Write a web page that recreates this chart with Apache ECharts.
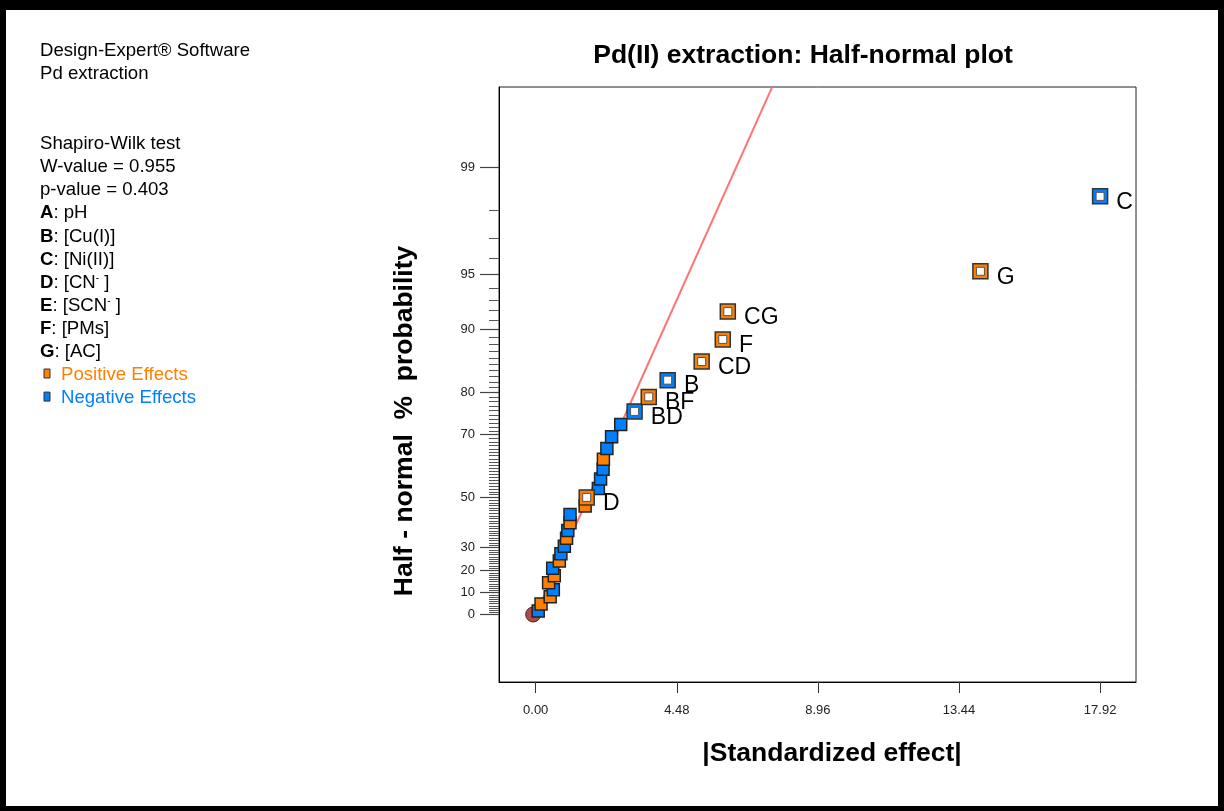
<!DOCTYPE html>
<html>
<head>
<meta charset="utf-8">
<script src="https://cdn.jsdelivr.net/npm/echarts@6/dist/echarts.min.js"></script>
<style>
html,body{margin:0;padding:0;background:#fff;}
#chart{width:1224px;height:811px;}
</style>
</head>
<body>
<div id="chart"></div>
<script>
// ---------------- data ----------------
// |standardized effect| of each effect, in rank order (smallest first)
const absEffects = [0.08, 0.17, 0.46, 0.56, 0.41, 0.59, 0.54, 0.75, 0.80, 0.91,
                    0.98, 1.02, 1.09, 1.09, 1.57, 1.62, 1.99, 2.06, 2.14, 2.15,
                    2.26, 2.41, 2.70, 3.14, 3.59, 4.19, 5.27, 5.94, 6.10, 14.12, 17.92];
// half-normal probability (%) of each ranked effect
const probPercent = [1.6, 4.8, 8.1, 11.3, 14.5, 17.7, 21.0, 24.2, 27.4, 30.6,
                     33.9, 37.1, 40.3, 43.5, 46.8, 50.0, 53.2, 56.5, 59.7, 62.9,
                     66.1, 69.4, 72.6, 75.8, 79.0, 82.3, 85.5, 88.7, 91.9, 95.2, 98.4];
// sign of each effect
const effectSigns = ['-', '+', '+', '-', '+', '+', '-', '+', '-', '-',
                     '+', '-', '+', '-', '+', '+', '-', '-', '-', '+',
                     '-', '-', '-', '-', '+', '-', '+', '+', '+', '+', '-'];
// names of the selected (labelled) effects
const effectNames = ['', '', '', '', '', '', '', '', '', '',
                     '', '', '', '', '', 'D', '', '', '', '',
                     '', '', '', 'BD', 'BF', 'B', 'CD', 'F', 'CG', 'G', 'C'];
const originPoint = [-0.08, 0];           // [effect, %]
const fitLineEffect = [0, 7.5];
const fitLinePercent = [0, 99.76];
const xTickValues = [0, 4.48, 8.96, 13.44, 17.92];
const yTickPercents = [0, 10, 20, 30, 50, 70, 80, 90, 95, 99];
const yMinorPercents = [];
for (let p = 1; p <= 98; p++) if (yTickPercents.indexOf(p) < 0) yMinorPercents.push(p);

const chartTitle = 'Pd(II) extraction: Half-normal plot';
const xTitle = '|Standardized effect|';
const yTitle = 'Half - normal  %  probability';
const panelHeader = ['Design-Expert® Software', 'Pd extraction'];
const panelStats = ['Shapiro-Wilk test', 'W-value = 0.955', 'p-value = 0.403'];
const factorLetters = ['A', 'B', 'C', 'D', 'E', 'F', 'G'];
const factorNames = ['pH', '[Cu(I)]', '[Ni(II)]', '[CN{sup|-} ]', '[SCN{sup|-} ]', '[PMs]', '[AC]'];
const legendNames = ['Positive Effects', 'Negative Effects'];

// ---------------- probability scale ----------------
function normInv(p) {
  const a=[-3.969683028665376e+01,2.209460984245205e+02,-2.759285104469687e+02,1.383577518672690e+02,-3.066479806614716e+01,2.506628277459239e+00];
  const b=[-5.447609879822406e+01,1.615858368580409e+02,-1.556989798598866e+02,6.680131188771972e+01,-1.328068155288572e+01];
  const c=[-7.784894002430293e-03,-3.223964580411365e-01,-2.400758277161838e+00,-2.549732539343734e+00,4.374664141464968e+00,2.938163982698783e+00];
  const d=[7.784695709041462e-03,3.224671290700398e-01,2.445134137142996e+00,3.754408661907416e+00];
  const pl=0.02425, ph=1-pl; let q, r;
  if (p < pl) { q=Math.sqrt(-2*Math.log(p)); return (((((c[0]*q+c[1])*q+c[2])*q+c[3])*q+c[4])*q+c[5])/((((d[0]*q+d[1])*q+d[2])*q+d[3])*q+1); }
  if (p <= ph) { q=p-0.5; r=q*q; return (((((a[0]*r+a[1])*r+a[2])*r+a[3])*r+a[4])*r+a[5])*q/(((((b[0]*r+b[1])*r+b[2])*r+b[3])*r+b[4])*r+1); }
  q=Math.sqrt(-2*Math.log(1-p)); return -(((((c[0]*q+c[1])*q+c[2])*q+c[3])*q+c[4])*q+c[5])/((((d[0]*q+d[1])*q+d[2])*q+d[3])*q+1);
}
function halfZ(pct) { return pct <= 0 ? 0 : normInv(0.5 + pct / 200); }

const FONT = '"Liberation Sans", Arial, Helvetica, sans-serif';
const ORANGE = '#FF8000', BLUE = '#0080FF';
const PANEL_FS = 18.6, TITLE_FS = 26.5;

const majorZ = yTickPercents.map(halfZ);
const minorZ = yMinorPercents.map(halfZ);

const filledData = [], hollowData = [];
absEffects.forEach((x, i) => {
  const col = effectSigns[i] === '+' ? ORANGE : BLUE;
  const pt = { value: [x, halfZ(probPercent[i])], name: effectNames[i], itemStyle: { color: col } };
  if (effectNames[i]) hollowData.push(pt); else filledData.push(pt);
});
const lineData = fitLineEffect.map((x, i) => [x, halfZ(fitLinePercent[i])]);

// ---------------- graphic texts ----------------
const graphics = [];
// frame
graphics.push({ type: 'rect', shape: { x: 0, y: 0, width: 1224, height: 10 }, style: { fill: '#000' }, z: 100 });
graphics.push({ type: 'rect', shape: { x: 0, y: 0, width: 6, height: 811 }, style: { fill: '#000' }, z: 100 });
graphics.push({ type: 'rect', shape: { x: 1218, y: 0, width: 6, height: 811 }, style: { fill: '#000' }, z: 100 });
graphics.push({ type: 'rect', shape: { x: 0, y: 806, width: 1224, height: 5 }, style: { fill: '#000' }, z: 100 });

function panelText(txt, y, color) {
  graphics.push({ type: 'text', x: 40, y: y, z: 50,
    style: { text: txt, fontSize: PANEL_FS, fontFamily: FONT, fill: color || '#000', textAlign: 'left', textVerticalAlign: 'middle',
      rich: { b: { fontWeight: 'bold', fontSize: PANEL_FS, fontFamily: FONT },
              sup: { fontSize: 10, fontFamily: FONT, padding: [0, 0, 9, 0] } } } });
}
const lineGap = 23.1;
panelText(panelHeader[0], 51);
panelText(panelHeader[1], 74);
panelStats.forEach((t, i) => panelText(t, 144 + i * lineGap));
factorLetters.forEach((L, i) => panelText('{b|' + L + '}: ' + factorNames[i], 144 + (3 + i) * lineGap));
legendNames.forEach((t, i) => {
  const y = 144 + (10 + i) * lineGap;
  graphics.push({ type: 'rect', z: 50, shape: { x: 44, y: y - 6, width: 6, height: 9 },
    style: { fill: i === 0 ? ORANGE : BLUE, stroke: '#333', lineWidth: 1 } });
  graphics.push({ type: 'text', x: 61, y: y, z: 50,
    style: { text: t, fontSize: PANEL_FS, fontFamily: FONT, fill: i === 0 ? ORANGE : BLUE, textAlign: 'left', textVerticalAlign: 'middle' } });
});
graphics.push({ type: 'text', x: 803, y: 56, z: 50,
  style: { text: chartTitle, fontSize: TITLE_FS, fontWeight: 'bold', fontFamily: FONT, fill: '#000', textAlign: 'center', textVerticalAlign: 'middle' } });
graphics.push({ type: 'text', x: 832, y: 754, z: 50,
  style: { text: xTitle, fontSize: TITLE_FS, fontWeight: 'bold', fontFamily: FONT, fill: '#000', textAlign: 'center', textVerticalAlign: 'middle' } });
graphics.push({ type: 'text', x: 405, y: 421, rotation: Math.PI / 2, z: 50,
  style: { text: yTitle, fontSize: TITLE_FS, fontWeight: 'bold', fontFamily: FONT, fill: '#000', textAlign: 'center', textVerticalAlign: 'middle' } });

// ---------------- chart ----------------
const chart = echarts.init(document.getElementById('chart'), null, { renderer: 'canvas' });
const yMin = -0.389, yMax = 3.039;
chart.setOption({
  animation: false,
  backgroundColor: '#fff',
  grid: { left: 499, top: 87, width: 637, height: 595, show: true, borderColor: '#222', borderWidth: 1, backgroundColor: 'transparent' },
  xAxis: {
    type: 'value', min: -1.165, max: 19.06,
    axisLine: { show: true, onZero: false, lineStyle: { color: '#000', width: 1 } },
    axisTick: { show: true, customValues: xTickValues, length: 11, lineStyle: { color: '#333', width: 1 } },
    axisLabel: { customValues: xTickValues, formatter: v => v.toFixed(2), margin: 22, fontSize: 13, fontFamily: FONT, color: '#222' },
    splitLine: { show: false }
  },
  yAxis: [{
    type: 'value', min: yMin, max: yMax,
    axisLine: { show: true, onZero: false, lineStyle: { color: '#000', width: 1 } },
    axisTick: { show: true, customValues: majorZ, length: 19, lineStyle: { color: '#444', width: 1.2 } },
    axisLabel: { customValues: majorZ, margin: 24, fontSize: 13, fontFamily: FONT, color: '#222',
      formatter: v => { let best = 0, bd = 1e9; majorZ.forEach((z, i) => { const d = Math.abs(z - v); if (d < bd) { bd = d; best = i; } }); return String(yTickPercents[best]); } },
    splitLine: { show: false }
  }, {
    type: 'value', min: yMin, max: yMax, position: 'left', offset: 0,
    axisLine: { show: false, onZero: false },
    axisTick: { show: true, customValues: minorZ, length: 10, lineStyle: { color: '#555', width: 1 } },
    axisLabel: { show: false },
    splitLine: { show: false }
  }],
  graphic: graphics,
  series: [
    { type: 'line', data: lineData, yAxisIndex: 0, symbol: 'none', silent: true, clip: true,
      lineStyle: { color: '#FF7373', width: 2 }, z: 1 },
    { type: 'scatter', data: [[originPoint[0], halfZ(originPoint[1])]], symbol: 'circle', symbolSize: 15, silent: true,
      itemStyle: { color: '#B04A4A', borderColor: '#442222', borderWidth: 1, opacity: 1 }, z: 2 },
    { type: 'scatter', data: filledData, symbol: 'rect', symbolSize: 12, silent: true,
      itemStyle: { borderColor: '#222', borderWidth: 1.5, opacity: 1 }, z: 3 },
    { type: 'scatter', data: hollowData, symbol: 'rect', symbolSize: 15, silent: true,
      itemStyle: { borderColor: '#333', borderWidth: 1.5, opacity: 1 }, z: 4,
      label: { show: true, position: 'right', distance: 8, offset: [0, 6], formatter: p => p.name,
               fontSize: 23, fontFamily: FONT, color: '#000' } },
    { type: 'scatter', data: hollowData.map(d => d.value), symbol: 'rect', symbolSize: 8, silent: true,
      itemStyle: { color: '#fff', borderColor: '#555', borderWidth: 1, opacity: 1 }, z: 5 }
  ]
});
</script>
</body>
</html>
